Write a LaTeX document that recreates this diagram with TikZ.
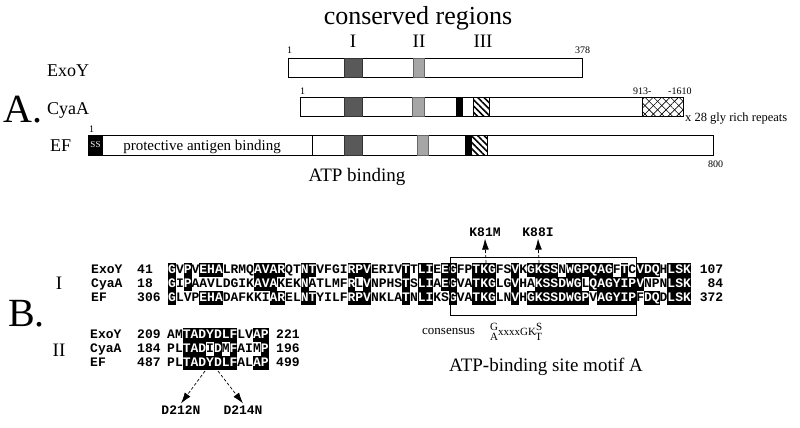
\documentclass[tikz,border=0pt]{standalone}
\usepackage{fontspec}
\setmainfont{Liberation Serif}
\setmonofont{Liberation Mono}
\usetikzlibrary{arrows.meta,patterns.meta}

% black box round conserved residues
\newcommand{\hl}[1]{{\setlength{\fboxsep}{0pt}\colorbox{black}{\rule[-3.5pt]{0pt}{14pt}\textcolor{white}{#1}}}}

\begin{document}
\begin{tikzpicture}[x=1pt,y=1pt,
  bar/.style={draw=black,line width=0.8pt,fill=white},
  dark/.style={fill=black!65,draw=black!80,line width=0.4pt},
  light/.style={fill=black!35,draw=black!60,line width=0.4pt},
  stripes/.style={pattern={Lines[angle=-45,distance=4.5pt,line width=1.6pt]}},
  prot/.style={font=\fontsize{18}{18}\selectfont,inner sep=0pt,anchor=base west},
  num/.style={font=\fontsize{10}{10}\selectfont,inner sep=0pt,anchor=base west},
  big/.style={font=\fontsize{19}{19}\selectfont,inner sep=0pt,anchor=base},
  seq/.style={font=\fontsize{13}{14}\selectfont\ttfamily\bfseries,inner sep=0pt,anchor=base west},
  mutlbl/.style={font=\fontsize{13}{14}\selectfont\ttfamily\bfseries,inner sep=2pt},
  mut/.style={densely dashed,line width=0.7pt,-{Latex[length=11pt,width=7pt]}}]

  \useasboundingbox[fill=white] (0,0) rectangle (800,-428);

  % ---------- A. domain maps
  \node[font=\fontsize{26}{26}\selectfont,inner sep=0pt,anchor=base] (title) at (418,-25) {conserved regions};
  \node[big] (rI) at (353,-48) {I};
  \node[big] (rII) at (419,-48) {II};
  \node[big] (rIII) at (483,-48) {III};
  \node[font=\fontsize{40}{40}\selectfont,inner sep=0pt,anchor=base west] (partA) at (3,-122) {A.};

  % ExoY
  \node[prot] (exoy) at (47,-77) {ExoY};
  \draw[bar] (288,-58) rectangle (582,-77);
  \draw[dark] (344,-58) rectangle (362,-77);
  \draw[light] (413,-58) rectangle (424,-77);
  \node[num] (exoyA) at (287,-53) {1};
  \node[num] (exoyB) at (575,-53) {378};

  % CyaA
  \node[prot] (cyaa) at (47,-114) {CyaA};
  \draw[bar] (300,-97) rectangle (683,-116);
  \draw[dark] (344,-97) rectangle (362,-116);
  \draw[light] (412,-97) rectangle (424,-116);
  \fill (456,-97) rectangle (463,-116);
  \fill[stripes] (473,-97) rectangle (489,-116);
  \draw[line width=0.6pt] (473,-97) rectangle (489,-116);
  \fill[pattern={Lines[angle=45,distance=6pt,line width=0.6pt]}] (642,-97) rectangle (683,-116);
  \fill[pattern={Lines[angle=-45,distance=6pt,line width=0.6pt]}] (642,-97) rectangle (683,-116);
  \draw[line width=0.8pt] (642,-97) rectangle (683,-116);
  \node[num] (cyaaA) at (300,-94) {1};
  \node[num] (cyaaB) at (633,-94) {913-};
  \node[num] (cyaaC) at (668,-94) {-1610};
  \node[num,font=\fontsize{12.5}{12.5}\selectfont] (repeats) at (685,-121) {x 28 gly rich repeats};

  % EF
  \node[prot] (ef) at (50,-151) {EF};
  \draw[bar] (88,-135) rectangle (713,-155);
  \fill (88,-135) rectangle (103,-155);
  \node[font=\fontsize{9}{9}\selectfont,text=white,inner sep=0pt] (ss) at (95.5,-145) {SS};
  \node[font=\fontsize{15}{15}\selectfont,inner sep=0pt,anchor=base] (pa) at (202,-150) {protective antigen binding};
  \draw[line width=0.8pt] (312,-135) -- (312,-155);
  \draw[dark] (344,-135) rectangle (362,-155);
  \draw[light] (417,-135) rectangle (428,-155);
  \fill (465,-135) rectangle (472,-155);
  \fill[stripes] (472,-135) rectangle (487,-155);
  \draw[line width=0.6pt] (465,-135) rectangle (487,-155);
  \node[num] (efA) at (89,-132) {1};
  \node[num] (efB) at (708,-167) {800};

  \node[big] (atp) at (357,-181) {ATP binding};

  % ---------- B. alignments
  \node[font=\fontsize{40}{40}\selectfont,inner sep=0pt,anchor=base west] (partB) at (8,-326) {B.};
  \node[big] (segI) at (59,-289) {I};
  \node[big] (segII) at (59,-356) {II};

  % region I
  \node[seq] (n1) at (91,-273.5) {ExoY};
  \node[seq] (n2) at (91,-287.5) {CyaA};
  \node[seq] (n3) at (91,-301.5) {EF};
  \node[seq] (s1) at (137,-273.5) {41};
  \node[seq] (s2) at (137,-287.5) {18};
  \node[seq] (s3) at (137,-301.5) {306};
  \node[seq] (q1) at (168,-273.5) {\hl{G}V\hl{P}V\hl{EHA}LRMQ\hl{AVAR}QT\hl{NT}VFGI\hl{RPV}ERIV\hl{T}T\hl{LI}E\hl{EG}FP\hl{TKG}FS\hl{V}K\hl{GKSS}N\hl{WGPQAG}F\hl{T}C\hl{VDQ}H\hl{LSK}};
  \node[seq] (q2) at (168,-287.5) {\hl{G}I\hl{P}AAVLDGIK\hl{AVA}KEK\hl{N}ATLMF\hl{R}L\hl{V}NPHS\hl{T}S\hl{LI}A\hl{EG}VA\hl{TKG}LG\hl{V}HA\hl{KSSDWG}L\hl{QAGYIPV}NPN\hl{LSK}};
  \node[seq] (q3) at (168,-301.5) {\hl{G}LVP\hl{EHA}DAFKKI\hl{AR}EL\hl{NT}YILF\hl{RPV}NKLA\hl{T}N\hl{LI}KS\hl{G}VA\hl{TKG}LN\hl{V}H\hl{GKSSDWGP}V\hl{AGYIP}F\hl{DQ}D\hl{LSK}};
  \node[seq,anchor=base east] (e1) at (723.4,-273.5) {107};
  \node[seq,anchor=base east] (e2) at (723.4,-287.5) {84};
  \node[seq,anchor=base east] (e3) at (723.4,-301.5) {372};

  % motif A box and mutations
  \draw[line width=0.8pt] (450,-257) rectangle (636,-315);
  \coordinate (k81) at (486,-263);
  \coordinate (k88) at (539,-263);
  \node[mutlbl] (K81M) at (485,-232) {K81M};
  \node[mutlbl] (K88I) at (538,-232) {K88I};
  \draw[mut] (k81) -- (K81M.south);
  \draw[mut] (k88) -- (K88I.south);
  \node[font=\fontsize{13}{13}\selectfont,inner sep=0pt,anchor=base west] (cons) at (422,-334) {consensus};
  \node[font=\fontsize{11}{11}\selectfont,inner sep=0pt,anchor=base west] (motif) at (490,-335)
    {\raisebox{5pt}{G}\llap{\raisebox{-5pt}{A}}xxxxGK\raisebox{5pt}{S}\llap{\raisebox{-5pt}{T}}};
  \node[big] (motifA) at (546,-371) {ATP-binding site motif A};

  % region II
  \node[seq] (m1) at (90,-338.5) {ExoY};
  \node[seq] (m2) at (90,-352.5) {CyaA};
  \node[seq] (m3) at (90,-366.5) {EF};
  \node[seq] (t1) at (137,-338.5) {209};
  \node[seq] (t2) at (137,-352.5) {184};
  \node[seq] (t3) at (137,-366.5) {487};
  \node[seq] (p1) at (167,-338.5) {AM\hl{TADYDLF}LV\hl{AP}};
  \node[seq] (p2) at (167,-352.5) {PL\hl{TAD}I\hl{D}M\hl{F}AIM\hl{P}};
  \node[seq] (p3) at (167,-366.5) {PL\hl{TADYDLF}AL\hl{AP}};
  \node[seq] (u1) at (276,-338.5) {221};
  \node[seq] (u2) at (276,-352.5) {196};
  \node[seq] (u3) at (276,-366.5) {499};

  \coordinate (d212) at (205,-371);
  \coordinate (d214) at (218,-371);
  \node[mutlbl] (D212N) at (181,-410) {D212N};
  \node[mutlbl] (D214N) at (243,-410) {D214N};
  \draw[mut] (d212) -- (D212N.north);
  \draw[mut] (d214) -- (D214N.north);
\end{tikzpicture}
\end{document}
